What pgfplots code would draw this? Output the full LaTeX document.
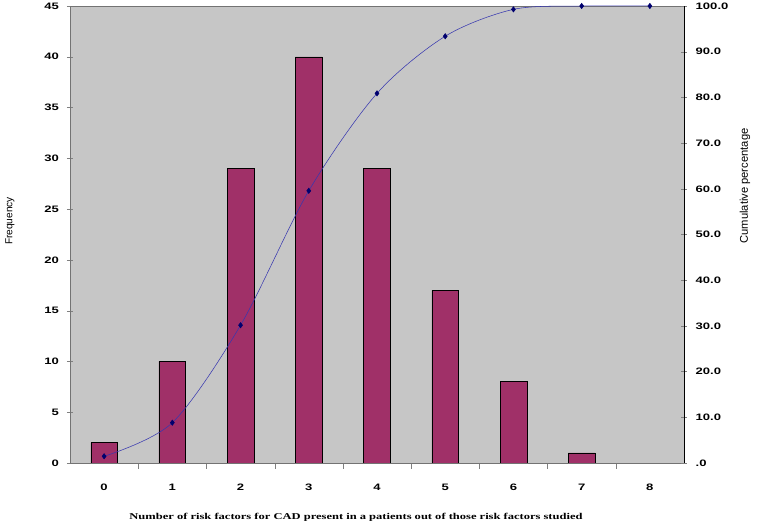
\documentclass[border=0pt]{standalone}
\usepackage{fontspec}
\setmainfont{Liberation Sans}
\newfontfamily\ticksf[FakeStretch=1.4]{Liberation Sans}
\newfontfamily\xlabsf[FakeStretch=1.4]{Liberation Serif}
\usepackage{pgfplots}
\pgfplotsset{compat=1.18}
\definecolor{plotbg}{RGB}{198,198,198}
\definecolor{barfill}{RGB}{160,48,104}
\definecolor{cumline}{RGB}{55,55,175}
\definecolor{cummark}{RGB}{0,0,110}

\pgfplotsset{
  chartbase/.style={
    scale only axis, width=460.5pt, height=342.75pt,
    at={(0pt,0pt)}, anchor=south west,
    xmin=-0.5, xmax=8.5,
    tick align=center, major tick length=4.5pt, minor tick length=4.5pt,
    /pgf/number format/assume math mode=true,
    tick label style={font=\ticksf\bfseries\fontsize{7}{8}\selectfont},
  },
}

\begin{document}
\begin{tikzpicture}
\path[use as bounding box] (-52.5pt,-45.75pt) rectangle (518.25pt,347.25pt);

% frequency bars (left axis)
\begin{axis}[chartbase,
  axis background/.style={fill=plotbg},
  axis line style={draw=black!55},
  ymin=0, ymax=45, ytick={0,5,...,45}, ytick pos=left,
  xtick={0,...,8}, xtick pos=bottom, major x tick style={draw=none},
  minor xtick={0.5,1.5,...,7.5},
  yticklabel style={xshift=-2.5pt},
  xticklabel style={yshift=-8pt},
  ybar, bar width=20pt,
]
\addplot[draw=black, fill=barfill, bar shift=0pt]
  coordinates {(0,2) (1,10) (2,29) (3,40) (4,29) (5,17) (6,8) (7,1)};
\end{axis}

% cumulative percentage (right axis)
\begin{axis}[chartbase,
  axis x line=none, axis y line*=right,
  ymin=0, ymax=100, ytick={0,10,...,100},
  yticklabels={.0,10.0,20.0,30.0,40.0,50.0,60.0,70.0,80.0,90.0,100.0},
  yticklabel style={xshift=3pt},
  clip=false,
]
\addplot[cumline, smooth, mark=diamond*, mark size=2pt,
  mark options={draw=cummark, fill=cummark}]
  coordinates {(0,1.47) (1,8.82) (2,30.15) (3,59.56) (4,80.88) (5,93.38) (6,99.26) (7,100) (8,100)};
\end{axis}

\node[rotate=90, font=\fontsize{7.6}{9}\selectfont] at (-45pt,181.5pt) {Frequency};
\node[rotate=90, font=\fontsize{8.4}{10}\selectfont] at (506.25pt,207.75pt) {Cumulative percentage};
\node[font=\xlabsf\bfseries\fontsize{6.7}{8}\selectfont] at (214.5pt,-40.5pt)
  {Number of risk factors for CAD present in a patients out of those risk factors studied};
\end{tikzpicture}
\end{document}
